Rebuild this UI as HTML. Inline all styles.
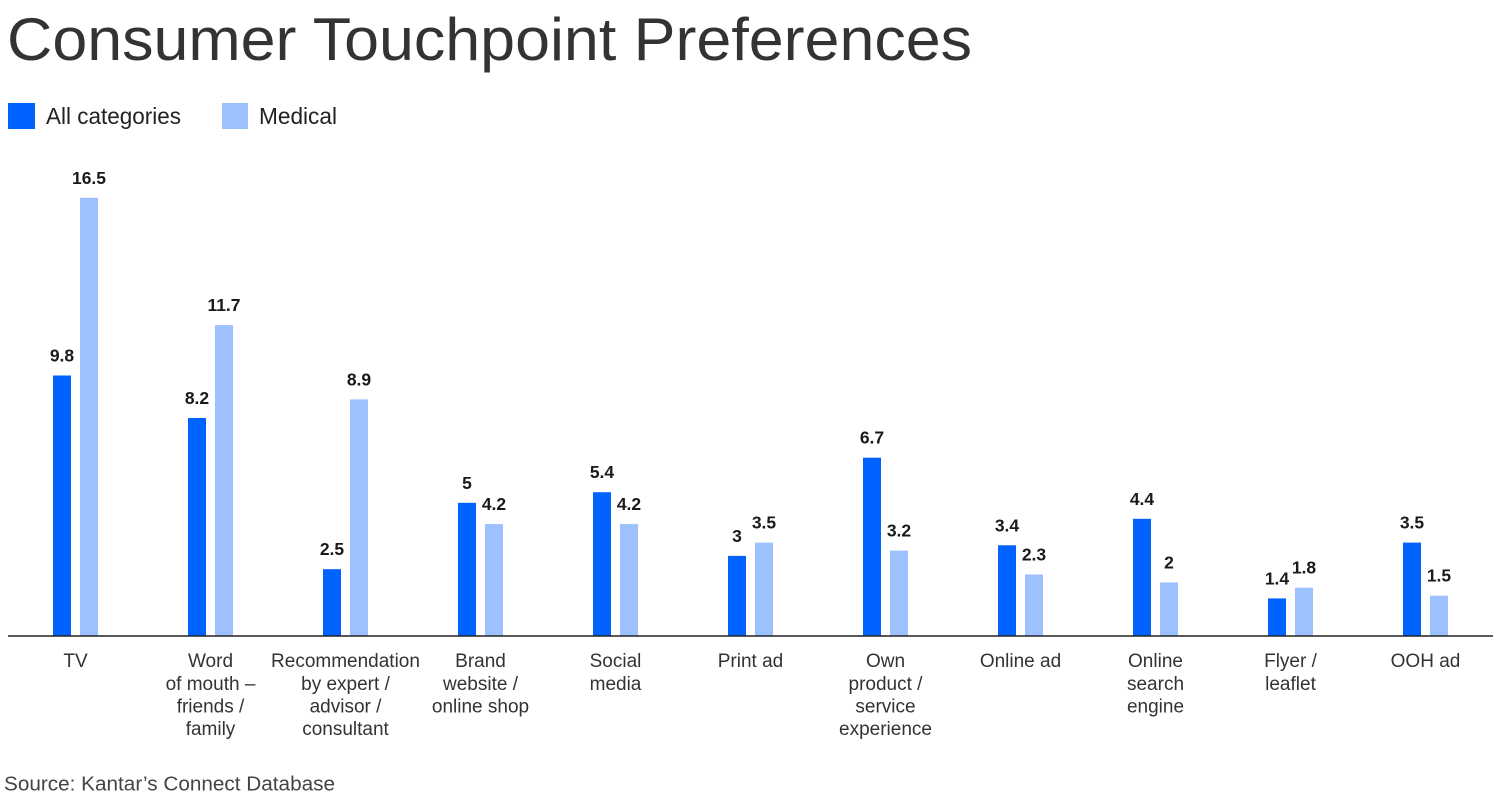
<!DOCTYPE html>
<html>
<head>
<meta charset="utf-8">
<style>
html,body{margin:0;padding:0;background:#fff;}
svg{display:block;}
text{font-family:"Liberation Sans",Arial,sans-serif;}
.v{font-weight:bold;font-size:17.5px;fill:#1a1a1a;text-anchor:middle;}
.c{font-size:19px;fill:#333;text-anchor:middle;}
</style>
</head>
<body>
<svg width="1500" height="800" viewBox="0 0 1500 800" xmlns="http://www.w3.org/2000/svg">
<rect width="1500" height="800" fill="#fff"/>
<text x="7" y="60" font-size="60" fill="#333" textLength="965" lengthAdjust="spacingAndGlyphs">Consumer Touchpoint Preferences</text>

<rect x="8" y="103" width="27" height="26" fill="#0062ff"/>
<text x="46" y="124" font-size="23" fill="#222" textLength="135" lengthAdjust="spacingAndGlyphs">All categories</text>
<rect x="222" y="103" width="26" height="26" fill="#9dc1ff"/>
<text x="259" y="124" font-size="23" fill="#222" textLength="78" lengthAdjust="spacingAndGlyphs">Medical</text>

<!-- dark bars -->
<g fill="#0062ff">
<rect x="53" y="375.5" width="18" height="260"/>
<rect x="188" y="418" width="18" height="217.5"/>
<rect x="323" y="569.2" width="18" height="66.3"/>
<rect x="458" y="502.8" width="18" height="132.7"/>
<rect x="593" y="492.2" width="18" height="143.3"/>
<rect x="728" y="555.9" width="18" height="79.6"/>
<rect x="863" y="457.7" width="18" height="177.8"/>
<rect x="998" y="545.3" width="18" height="90.2"/>
<rect x="1133" y="518.8" width="18" height="116.7"/>
<rect x="1268" y="598.4" width="18" height="37.1"/>
<rect x="1403" y="542.6" width="18" height="92.9"/>
</g>
<!-- light bars -->
<g fill="#9dc1ff">
<rect x="80" y="197.8" width="18" height="437.7"/>
<rect x="215" y="325.1" width="18" height="310.4"/>
<rect x="350" y="399.4" width="18" height="236.1"/>
<rect x="485" y="524.1" width="18" height="111.4"/>
<rect x="620" y="524.1" width="18" height="111.4"/>
<rect x="755" y="542.6" width="18" height="92.9"/>
<rect x="890" y="550.6" width="18" height="84.9"/>
<rect x="1025" y="574.5" width="18" height="61"/>
<rect x="1160" y="582.4" width="18" height="53.1"/>
<rect x="1295" y="587.7" width="18" height="47.8"/>
<rect x="1430" y="595.7" width="18" height="39.8"/>
</g>

<line x1="8" y1="636" x2="1493" y2="636" stroke="#222" stroke-width="1.6"/>

<!-- value labels dark -->
<text class="v" x="62" y="361.5">9.8</text>
<text class="v" x="197" y="404">8.2</text>
<text class="v" x="332" y="555.2">2.5</text>
<text class="v" x="467" y="488.8">5</text>
<text class="v" x="602" y="478.2">5.4</text>
<text class="v" x="737" y="541.9">3</text>
<text class="v" x="872" y="443.7">6.7</text>
<text class="v" x="1007" y="531.3">3.4</text>
<text class="v" x="1142" y="504.8">4.4</text>
<text class="v" x="1277" y="584.4">1.4</text>
<text class="v" x="1412" y="528.6">3.5</text>
<!-- value labels light -->
<text class="v" x="89" y="183.8">16.5</text>
<text class="v" x="224" y="311.1">11.7</text>
<text class="v" x="359" y="385.4">8.9</text>
<text class="v" x="494" y="510.1">4.2</text>
<text class="v" x="629" y="510.1">4.2</text>
<text class="v" x="764" y="528.6">3.5</text>
<text class="v" x="899" y="536.6">3.2</text>
<text class="v" x="1034" y="560.5">2.3</text>
<text class="v" x="1169" y="568.4">2</text>
<text class="v" x="1304" y="573.7">1.8</text>
<text class="v" x="1439" y="581.7">1.5</text>

<!-- category labels -->
<text class="c" x="75.5" y="667">TV</text>
<text class="c" x="210.5" y="667">Word</text>
<text class="c" x="210.5" y="690">of mouth –</text>
<text class="c" x="210.5" y="712.5">friends /</text>
<text class="c" x="210.5" y="735">family</text>
<text class="c" x="345.5" y="667">Recommendation</text>
<text class="c" x="345.5" y="690">by expert /</text>
<text class="c" x="345.5" y="712.5">advisor /</text>
<text class="c" x="345.5" y="735">consultant</text>
<text class="c" x="480.5" y="667">Brand</text>
<text class="c" x="480.5" y="690">website /</text>
<text class="c" x="480.5" y="712.5">online shop</text>
<text class="c" x="615.5" y="667">Social</text>
<text class="c" x="615.5" y="690">media</text>
<text class="c" x="750.5" y="667">Print ad</text>
<text class="c" x="885.5" y="667">Own</text>
<text class="c" x="885.5" y="690">product /</text>
<text class="c" x="885.5" y="712.5">service</text>
<text class="c" x="885.5" y="735">experience</text>
<text class="c" x="1020.5" y="667">Online ad</text>
<text class="c" x="1155.5" y="667">Online</text>
<text class="c" x="1155.5" y="690">search</text>
<text class="c" x="1155.5" y="712.5">engine</text>
<text class="c" x="1290.5" y="667">Flyer /</text>
<text class="c" x="1290.5" y="690">leaflet</text>
<text class="c" x="1425.5" y="667">OOH ad</text>

<text x="4" y="790.5" font-size="20" fill="#444" textLength="331" lengthAdjust="spacingAndGlyphs">Source: Kantar’s Connect Database</text>
</svg>
</body>
</html>
